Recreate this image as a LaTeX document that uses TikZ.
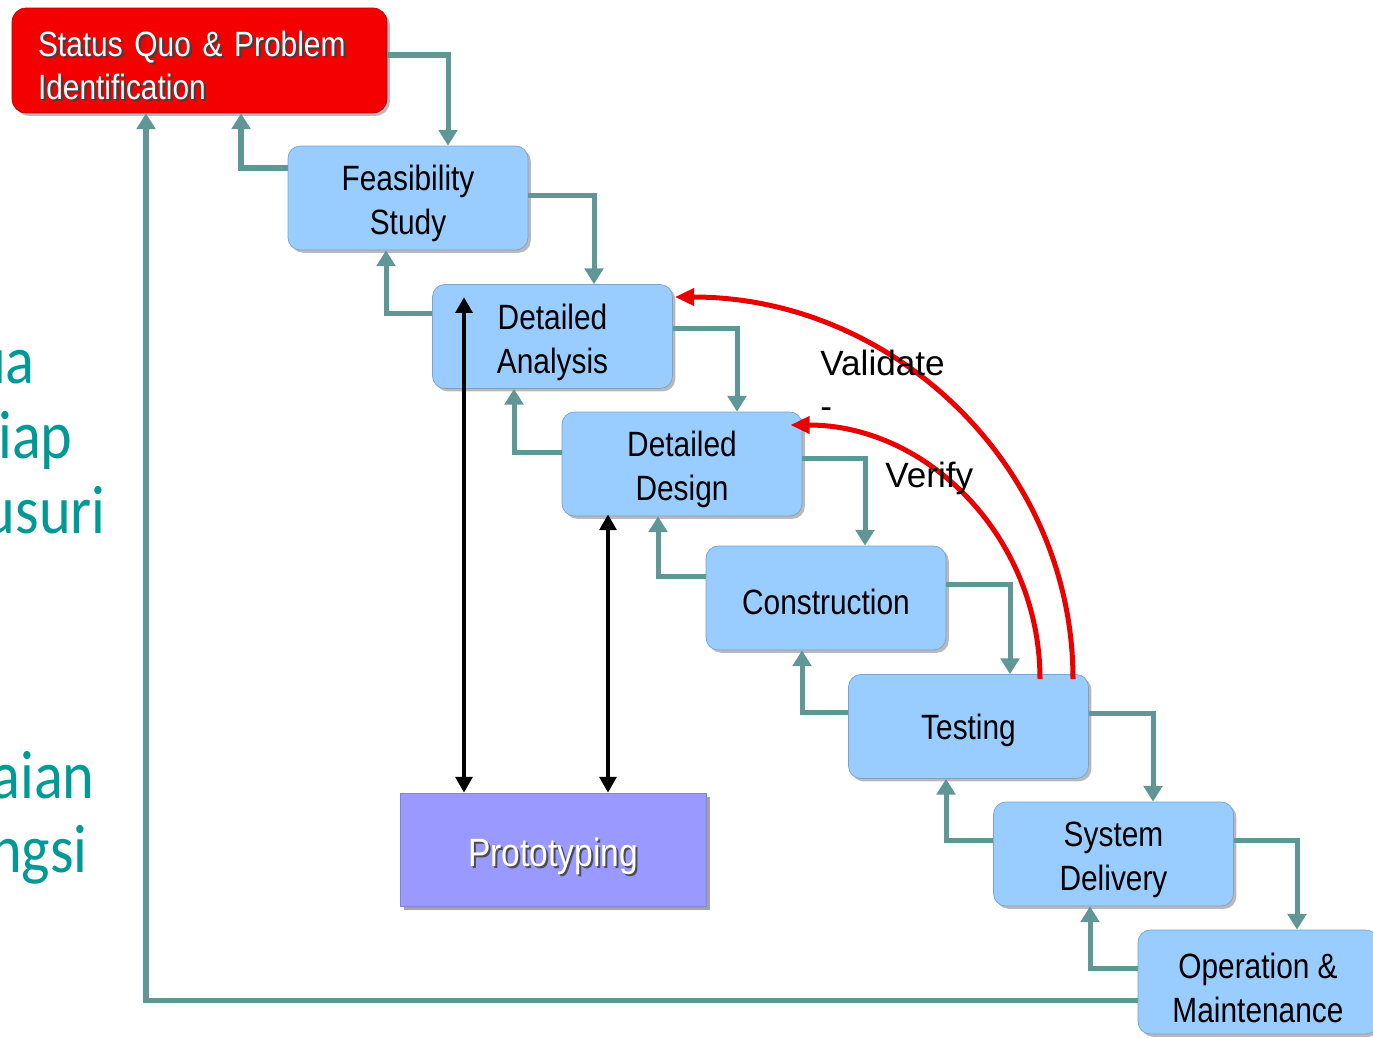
\documentclass[tikz,border=0pt]{standalone}
\usepackage{fontspec}
\usetikzlibrary{arrows.meta,shadows}

% fonts: condensed sans for the boxes, plain sans for the labels
\newfontfamily\boxfont[FakeStretch=0.85]{Liberation Sans}
\newfontfamily\labelfont{Liberation Sans}
\newfontfamily\sidefont[FakeStretch=0.88]{Carlito}

\definecolor{stepblue}{HTML}{99CCFF}
\definecolor{stepred}{HTML}{F40000}
\definecolor{protofill}{HTML}{9999FF}
\definecolor{linkteal}{RGB}{95,150,150}
\definecolor{sideteal}{RGB}{0,153,150}
\definecolor{curvered}{RGB}{235,0,0}

% text with a small offset shadow behind it
\newcommand\castshadow[2]{\makebox[0pt][l]{\kern1.3pt\raisebox{-1.3pt}{\textcolor{#1}{#2}}}#2}
% invisible strut that lowers the first line of a box a little
\newcommand\headroom{\rule{0pt}{21pt}}

\tikzset{
  stepbox/.style={rectangle, rounded corners=7pt, fill=stepblue,
    draw=stepblue!80!black, line width=0.4pt,
    minimum width=4.8cm, minimum height=2.08cm, inner sep=0pt,
    align=center, text=black, font=\boxfont\fontsize{20}{25}\selectfont,
    drop shadow={shadow xshift=1.6pt, shadow yshift=-1.6pt, fill=black!50, opacity=0.55}},
  startbox/.style={rectangle, rounded corners=8pt, fill=stepred,
    draw=stepred!75!black, line width=0.4pt,
    text width=6.46cm, inner xsep=0.52cm, inner ysep=0pt,
    minimum height=2.1cm, align=left, text=white,
    font=\boxfont\fontsize{20}{24.5}\selectfont,
    drop shadow={shadow xshift=1.6pt, shadow yshift=-1.6pt, fill=black!50, opacity=0.55}},
  protobox/.style={rectangle, fill=protofill, draw=protofill!85!black,
    line width=0.4pt, minimum width=6.12cm, minimum height=2.26cm,
    inner sep=0pt, text=white, font=\boxfont\fontsize{22.5}{27}\selectfont,
    drop shadow={shadow xshift=2.2pt, shadow yshift=-2.2pt, fill=black!60, opacity=0.6}},
  link/.style={draw=linkteal, line width=2.85pt,
    -{Triangle[width=10.5pt,length=9pt]}},
  protolink/.style={draw=black, line width=2.3pt,
    {Triangle[width=9.5pt,length=9pt]}-{Triangle[width=9.5pt,length=9pt]}},
  feedback/.style={draw=curvered, line width=2.85pt,
    -{Triangle[width=9.5pt,length=11pt]}},
  curvelabel/.style={inner sep=0pt, anchor=base west,
    font=\labelfont\fontsize{20}{24}\selectfont},
  sidetext/.style={inner sep=0pt, anchor=base east, text=sideteal,
    font=\sidefont\fontsize{39}{47}\selectfont}
}

\begin{document}
\begin{tikzpicture}[x=0.02cm, y=-0.02cm]
  \fill[white] (0,0) rectangle (1373,1038);
  \useasboundingbox (0,0) rectangle (1373,1038);

  % words running in from the left margin
  \node[sidetext] (s1) at (35,383) {ua};
  \node[sidetext] (s2) at (73,458) {iap};
  \node[sidetext] (s3) at (106,533) {usuri};
  \node[sidetext] (s4) at (95,798) {aian};
  \node[sidetext] (s5) at (88,872) {ngsi};

  % phases of the life cycle
  \node[startbox] (status) at (199.5,60.5)
    {\headroom\castshadow{black!75}{Status Quo \& Problem}\\\castshadow{black!75}{Identification}};
  \node[stepbox] (feas) at (408,198) {\headroom Feasibility\\Study};
  \node[stepbox] (da)   at (552.5,336.5) {\headroom Detailed\\Analysis};
  \node[stepbox] (dd)   at (682,464) {\headroom Detailed\\Design};
  \node[stepbox] (cons) at (826,598) {\rule{0pt}{19pt}Construction};
  \node[stepbox] (test) at (968.5,726.5) {\rule{0pt}{19pt}Testing};
  \node[stepbox] (sd)   at (1113.5,854) {\headroom System\\Delivery};
  \node[stepbox] (om)   at (1258,982) {\headroom Operation \&\\Maintenance};
  \node[protobox] (proto) at (553,849.5)
    {\raisebox{-9.4pt}[0pt][0pt]{\castshadow{black!70}{Prototyping}}};

  % forward flow, down the cascade
  \draw[link] ([shift={(0,-5.5)}]status.east) -| ([shift={(40,0)}]feas.north);
  \draw[link] ([shift={(0,-3)}]feas.east)    -| ([shift={(41.5,0)}]da.north);
  \draw[link] ([shift={(0,-8.5)}]da.east)    -| ([shift={(55,0)}]dd.north);
  \draw[link] ([shift={(0,-6)}]dd.east)      -| ([shift={(39,0)}]cons.north);
  \draw[link] ([shift={(0,-14)}]cons.east)   -| ([shift={(41.5,0)}]test.north);
  \draw[link] ([shift={(0,-13.5)}]test.east) -| ([shift={(39.5,0)}]sd.north);
  \draw[link] ([shift={(0,-14)}]sd.east)     -| ([shift={(39,0)}]om.north);

  % backward flow, up the cascade
  \draw[link] ([shift={(0,-30)}]feas.west)   -| ([shift={(41.5,0)}]status.south);
  \draw[link] ([shift={(0,-23.5)}]da.west)   -| ([shift={(-22,0)}]feas.south);
  \draw[link] ([shift={(0,-12)}]dd.west)     -| ([shift={(-38.5,0)}]da.south);
  \draw[link] ([shift={(0,-22)}]cons.west)   -| ([shift={(-24,0)}]dd.south);
  \draw[link] ([shift={(0,-14.5)}]test.west) -| ([shift={(-24,0)}]cons.south);
  \draw[link] ([shift={(0,-14)}]sd.west)     -| ([shift={(-22.5,0)}]test.south);
  \draw[link] ([shift={(0,-14)}]om.west)     -| ([shift={(-23.5,0)}]sd.south);
  \draw[link] ([shift={(0,18)}]om.west)      -| ([shift={(-53.5,0)}]status.south);

  % prototyping loops
  \draw[protolink] ([shift={(-88.5,13)}]da.north) -- ([shift={(-89,0)}]proto.north);
  \draw[protolink] ([shift={(-74,-2)}]dd.south)   -- ([shift={(55,0)}]proto.north);

  % validation and verification feedback
  \draw[feedback] ([shift={(104.5,5)}]test.north)
    .. controls +(0,-211.5) and +(219.8,0) .. ([shift={(2,-39.5)}]da.east);
  \draw[feedback] ([shift={(71.5,5)}]test.north)
    .. controls +(0,-140.8) and +(138,0) .. ([shift={(-12,-39)}]dd.east);

  \node[curvelabel] (lval) at (820,375) {Validate};
  \node[curvelabel] (ldash) at (820,418) {-};
  \node[curvelabel] (lver) at (885,487) {Verify};
\end{tikzpicture}
\end{document}
